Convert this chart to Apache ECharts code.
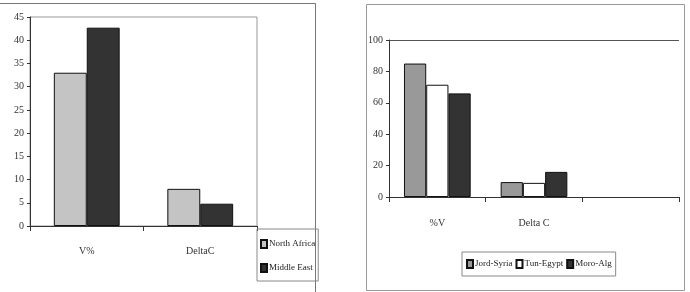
<!DOCTYPE html>
<html>
<head>
<meta charset="utf-8">
<script src="https://cdn.jsdelivr.net/npm/echarts@6/dist/echarts.min.js"></script>
<style>
html,body{margin:0;padding:0;background:#fff;}
#main{width:690px;height:292px;}
</style>
</head>
<body>
<div id="main"></div>
<script>
// left panel
var leftCats = ['V%', 'DeltaC'];
var northAfrica = [33, 8];
var middleEast = [42.7, 4.8];
var leftTicks = [0, 5, 10, 15, 20, 25, 30, 35, 40, 45];

// right panel (third category is empty)
var rightCats = ['%V', 'Delta C', ''];
var jordSyria = [85, 9.5, null];
var tunEgypt = [71.5, 9, null];
var moroAlg = [66, 16, null];
var rightTicks = [0, 20, 40, 60, 80, 100];

var myChart = echarts.init(document.getElementById('main'));
var font = 'Liberation Serif';

var option = {
    animation: false,
    textStyle: { fontFamily: font },
    graphic: [
        { type: 'polyline', shape: { points: [[0, 3.5], [315.5, 3.5], [315.5, 292]] },
          style: { stroke: '#777', lineWidth: 1, fill: null } },
        { type: 'rect', shape: { x: 366.5, y: 4.5, width: 318, height: 286 },
          style: { stroke: '#999', lineWidth: 1, fill: null } }
    ],
    legend: [{
        orient: 'vertical',
        left: 257, top: 229,
        padding: [10, 3, 8, 3],
        itemGap: 14,
        itemWidth: 6, itemHeight: 8,
        icon: 'rect',
        borderColor: '#888', borderWidth: 1,
        textStyle: { fontFamily: font, fontSize: 9, color: '#222', padding: [0, 0, 0, -3] },
        data: ['North Africa', 'Middle East']
    }, {
        orient: 'horizontal',
        left: 462, top: 252,
        padding: [7, 4, 7, 4],
        itemGap: 3,
        itemWidth: 6, itemHeight: 8,
        icon: 'rect',
        borderColor: '#888', borderWidth: 1,
        textStyle: { fontFamily: font, fontSize: 9, color: '#222', padding: [0, 0, 0, -3] },
        data: ['Jord-Syria', 'Tun-Egypt', 'Moro-Alg']
    }],
    grid: [{
        left: 30, top: 17, width: 227, height: 209,
        show: true, borderColor: '#999', borderWidth: 1, backgroundColor: 'transparent'
    }, {
        left: 389, top: 40, width: 290, height: 157
    }],
    xAxis: [{
        gridIndex: 0,
        type: 'category',
        data: leftCats,
        axisLine: { lineStyle: { color: '#333' } },
        axisTick: { show: true, length: 5, lineStyle: { color: '#333' } },
        axisLabel: { color: '#333', fontSize: 10, margin: 20 }
    }, {
        gridIndex: 1,
        type: 'category',
        data: rightCats,
        axisLine: { lineStyle: { color: '#333' } },
        axisTick: { show: true, length: 5, lineStyle: { color: '#333' } },
        axisLabel: { color: '#333', fontSize: 10, margin: 21 }
    }],
    yAxis: [{
        gridIndex: 0,
        type: 'value',
        min: 0, max: 45, interval: 5,
        axisLine: { show: true, lineStyle: { color: '#333' } },
        axisTick: { show: true, length: 3, lineStyle: { color: '#333' } },
        axisLabel: { color: '#333', fontSize: 10, margin: 6 },
        splitLine: { show: false }
    }, {
        gridIndex: 1,
        type: 'value',
        min: 0, max: 100, interval: 20,
        axisLine: { show: true, lineStyle: { color: '#333' } },
        axisTick: { show: true, length: 3, lineStyle: { color: '#333' } },
        axisLabel: { color: '#333', fontSize: 10, margin: 6 },
        splitLine: { show: true, lineStyle: { color: ['transparent', 'transparent', 'transparent', 'transparent', 'transparent', '#555'] } }
    }],
    series: [{
        name: 'North Africa', type: 'bar', xAxisIndex: 0, yAxisIndex: 0,
        data: northAfrica, barGap: '0%', barCategoryGap: '42%',
        itemStyle: { color: '#c4c4c4', borderColor: '#111', borderWidth: 1 }
    }, {
        name: 'Middle East', type: 'bar', xAxisIndex: 0, yAxisIndex: 0,
        data: middleEast, barGap: '0%', barCategoryGap: '42%',
        itemStyle: { color: '#333333', borderColor: '#111', borderWidth: 1 }
    }, {
        name: 'Jord-Syria', type: 'bar', xAxisIndex: 1, yAxisIndex: 1,
        data: jordSyria, barGap: '0%', barCategoryGap: '31%',
        itemStyle: { color: '#999999', borderColor: '#111', borderWidth: 1 }
    }, {
        name: 'Tun-Egypt', type: 'bar', xAxisIndex: 1, yAxisIndex: 1,
        data: tunEgypt, barGap: '0%', barCategoryGap: '31%',
        itemStyle: { color: '#ffffff', borderColor: '#111', borderWidth: 1 }
    }, {
        name: 'Moro-Alg', type: 'bar', xAxisIndex: 1, yAxisIndex: 1,
        data: moroAlg, barGap: '0%', barCategoryGap: '31%',
        itemStyle: { color: '#333333', borderColor: '#111', borderWidth: 1 }
    }]
};
myChart.setOption(option);
window.onresize = myChart.resize;
</script>
</body>
</html>
